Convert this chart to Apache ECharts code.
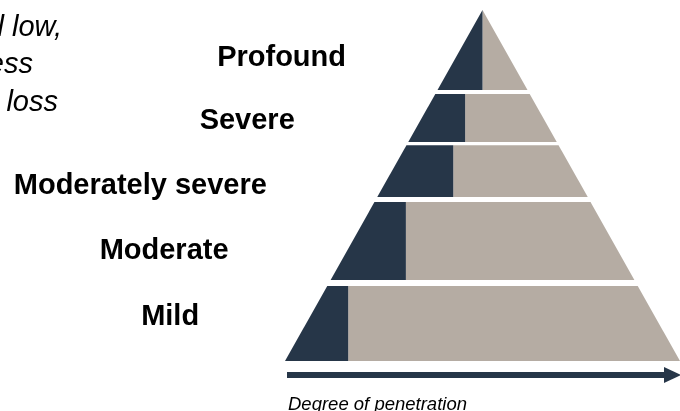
<!DOCTYPE html>
<html>
<head>
<meta charset="utf-8">
<script src="https://cdn.jsdelivr.net/npm/echarts@6/dist/echarts.min.js"></script>
<style>html,body{margin:0;padding:0;background:#fff}#c{width:680px;height:411px}</style>
</head>
<body>
<div id="c"></div>
<script>
// ---- data ----
const categories = ['Mild', 'Moderate', 'Moderately severe', 'Severe', 'Profound'];
const bandBottom = [0, 23.1, 46.7, 62.4, 77.2];   // % of pyramid height
const bandTop    = [21.4, 45.3, 61.5, 76.1, 100];
const penetration = [16.0, 30.6, 42.6, 45.6, 50.0]; // x position (0-100 of base) where dark part ends
const noteLines = ['Sound level low,', 'hearing less', 'hearing loss'];
const axisTitle = 'Degree of penetration';

// ---- layout / style ----
const labelGap = [107, 124, 125, 127, 114];
const labelDy = [-6.5, 10, 15, 3, 8];
const DARK = '#263648', LIGHT = '#b5aca3';
const LABEL_FONT = 'bold 29px "Liberation Sans", Arial, sans-serif';
const NOTE_FONT = 'italic 29px "Liberation Sans", Arial, sans-serif';

const L = y => 0.5 * y;
const R = y => 100 - 0.5 * y;

function clip(poly, d, keepLeft) {
  const out = [];
  const n = poly.length;
  for (let i = 0; i < n; i++) {
    const a = poly[i], b = poly[(i + 1) % n];
    const ina = keepLeft ? a[0] <= d : a[0] >= d;
    const inb = keepLeft ? b[0] <= d : b[0] >= d;
    if (ina) out.push(a);
    if (ina !== inb) {
      const t = (d - a[0]) / (b[0] - a[0]);
      out.push([d, a[1] + t * (b[1] - a[1])]);
    }
  }
  return out;
}

const chart = echarts.init(document.getElementById('c'), null, {renderer: 'canvas'});
const data = categories.map((c, i) => [bandBottom[i], bandTop[i], penetration[i]]);

chart.setOption({
  animation: false,
  grid: {left: 285, top: 10, width: 400, height: 351},
  xAxis: {type: 'value', min: 0, max: 100, show: false},
  yAxis: {type: 'value', min: 0, max: 100, show: false},
  series: [{
    type: 'custom',
    clip: false,
    silent: true,
    data: data,
    renderItem: function (params, api) {
      const i = params.dataIndex;
      const b = api.value(0), t = api.value(1), d = api.value(2);
      const trap = [[L(b), b], [R(b), b], [R(t), t], [L(t), t]];
      const dark = clip(trap, d, true).map(p => api.coord(p));
      const light = clip(trap, d, false).map(p => api.coord(p));
      const mid = (b + t) / 2;
      const edge = api.coord([L(mid), mid]);
      const children = [
        {type: 'polygon', shape: {points: light}, style: {fill: LIGHT}},
        {type: 'polygon', shape: {points: dark}, style: {fill: DARK}},
        {type: 'text', style: {
          text: categories[i],
          x: edge[0] - labelGap[i], y: edge[1] + labelDy[i],
          textAlign: 'right', align: 'right',
          textVerticalAlign: 'middle', verticalAlign: 'middle',
          font: LABEL_FONT,
          fill: '#000'
        }}
      ];
      return {type: 'group', children: children};
    }
  }],
  graphic: [
    {type: 'rect', shape: {x: 287, y: 372, width: 380, height: 6}, style: {fill: DARK}, silent: true},
    {type: 'polygon', shape: {points: [[664, 367], [681, 375], [664, 383]]}, style: {fill: DARK}, silent: true},
    {type: 'text', style: {text: axisTitle, x: 288, y: 405, textAlign: 'left', align: 'left',
      textVerticalAlign: 'middle', verticalAlign: 'middle',
      font: 'italic 18.5px "Liberation Sans", Arial, sans-serif', fill: '#000'}, silent: true},
    {type: 'text', style: {text: noteLines[0], x: 62, y: 27.5, textAlign: 'right', align: 'right',
      textVerticalAlign: 'middle', verticalAlign: 'middle', font: NOTE_FONT, fill: '#000'}, silent: true},
    {type: 'text', style: {text: noteLines[1], x: 33, y: 64.5, textAlign: 'right', align: 'right',
      textVerticalAlign: 'middle', verticalAlign: 'middle', font: NOTE_FONT, fill: '#000'}, silent: true},
    {type: 'text', style: {text: noteLines[2], x: 58, y: 102.5, textAlign: 'right', align: 'right',
      textVerticalAlign: 'middle', verticalAlign: 'middle', font: NOTE_FONT, fill: '#000'}, silent: true}
  ]
});
</script>
</body>
</html>
